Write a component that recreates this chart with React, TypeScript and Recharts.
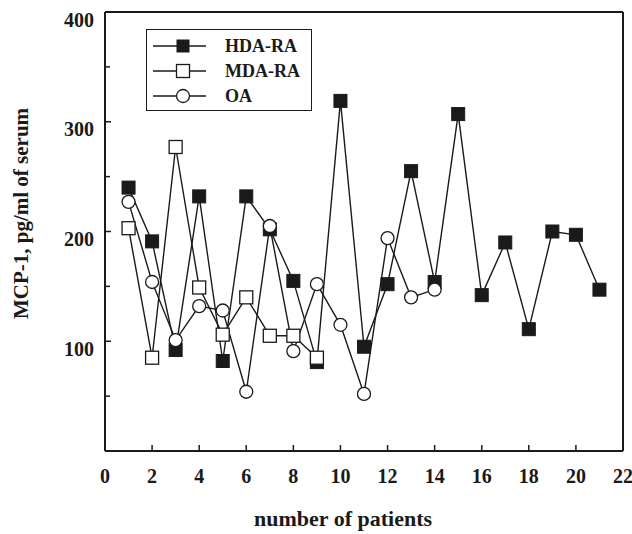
import { LineChart, Line, XAxis, YAxis, ReferenceLine, Label } from 'recharts';

const patients = [1, 2, 3, 4, 5, 6, 7, 8, 9, 10, 11, 12, 13, 14, 15, 16, 17, 18, 19, 20, 21];
const hdaRa = [240, 191, 92, 232, 82, 232, 202, 155, 81, 319, 95, 152, 255, 154, 307, 142, 190, 111, 200, 197, 147];
const mdaRa = [203, 85, 277, 149, 106, 140, 105, 105, 85];
const oa = [227, 154, 101, 132, 128, 54, 205, 91, 152, 115, 52, 194, 140, 147];

const xTicks = [0, 2, 4, 6, 8, 10, 12, 14, 16, 18, 20, 22];
const yTicks = [50, 100, 150, 200, 250, 300, 350, 400];
const yLabelled = [100, 200, 300, 400];

const data = patients.map((p, i) => ({
  patient: p,
  hda: hdaRa[i],
  mda: mdaRa[i],
  oa: oa[i],
}));

const FONT = '"Liberation Serif", "Times New Roman", serif';
const INK = '#1a1a1a';

const XTick = (props: any) => {
  const { x, y, payload } = props;
  return (
    <g>
      <line x1={x} y1={y} x2={x} y2={y - 6} stroke={INK} strokeWidth={1.5} />
      <text x={x} y={y + 32} textAnchor="middle" fontFamily={FONT} fontWeight="bold" fontSize={20} fill={INK}>
        {payload.value}
      </text>
    </g>
  );
};

const YTick = (props: any) => {
  const { x, y, payload } = props;
  const show = yLabelled.includes(payload.value);
  return (
    <g>
      <line x1={x} y1={y} x2={x + (show ? 6 : 5)} y2={y} stroke={INK} strokeWidth={1.5} />
      {show && (
        <text x={x - 11} y={y + 14.5} textAnchor="end" fontFamily={FONT} fontWeight="bold" fontSize={20} fill={INK}>
          {payload.value}
        </text>
      )}
    </g>
  );
};

const filledSquare = (props: any) => {
  const { cx, cy, index } = props;
  if (cx == null || cy == null) return <g key={`h${index}`} />;
  return <rect key={`h${index}`} x={cx - 6.5} y={cy - 6.5} width={13} height={13} fill={INK} stroke={INK} strokeWidth={1} />;
};

const openSquare = (props: any) => {
  const { cx, cy, index } = props;
  if (cx == null || cy == null) return <g key={`m${index}`} />;
  return <rect key={`m${index}`} x={cx - 6.5} y={cy - 6.5} width={13} height={13} fill="#fff" stroke={INK} strokeWidth={1.3} />;
};

const openCircle = (props: any) => {
  const { cx, cy, index } = props;
  if (cx == null || cy == null) return <g key={`o${index}`} />;
  return <circle key={`o${index}`} cx={cx} cy={cy} r={6.5} fill="#fff" stroke={INK} strokeWidth={1.3} />;
};

const YTitle = ({ viewBox }: any) => {
  const cx = viewBox.x + 21;
  const cy = viewBox.y + viewBox.height / 2 - 18;
  return (
    <text x={cx} y={cy} transform={`rotate(-90 ${cx} ${cy})`} textAnchor="middle" dominantBaseline="central"
      fontFamily={FONT} fontWeight="bold" fontSize={21} fill={INK}>
      MCP-1, pg/ml of serum
    </text>
  );
};

const XTitle = ({ viewBox }: any) => {
  const cx = viewBox.x + viewBox.width / 2 - 21;
  return (
    <text x={cx} y={viewBox.y + 75} textAnchor="middle" fontFamily={FONT} fontWeight="bold" fontSize={22} fill={INK}>
      number of patients
    </text>
  );
};

const legendItems = [
  { name: 'HDA-RA', kind: 'filled' },
  { name: 'MDA-RA', kind: 'open' },
  { name: 'OA', kind: 'circle' },
];

const ChartLegend = () => (
  <div style={{ position: 'absolute', left: 146, top: 29, width: 166, height: 82, border: `1.5px solid ${INK}`, boxSizing: 'border-box', background: '#fff' }}>
    <svg width={163} height={79}>
      {legendItems.map((it, i) => {
        const y = 16 + i * 25;
        return (
          <g key={it.name}>
            <line x1={6} x2={59} y1={y} y2={y} stroke={INK} strokeWidth={1.3} />
            {it.kind === 'filled' && <rect x={29.5} y={y - 6.5} width={13} height={13} fill={INK} />}
            {it.kind === 'open' && <rect x={29.5} y={y - 6.5} width={13} height={13} fill="#fff" stroke={INK} strokeWidth={1.3} />}
            {it.kind === 'circle' && <circle cx={36} cy={y} r={6.5} fill="#fff" stroke={INK} strokeWidth={1.3} />}
            <text x={78} y={y + 6} fontFamily={FONT} fontWeight="bold" fontSize={18} fill={INK}>{it.name}</text>
          </g>
        );
      })}
    </svg>
  </div>
);

export default function App() {
  return (
    <div style={{ position: 'absolute', left: 0, top: 0, width: 632, height: 534, background: '#fff' }}>
      <LineChart width={632} height={534} data={data} margin={{ top: 12, right: 9, bottom: 0, left: 0 }}>
        <XAxis
          dataKey="patient"
          type="number"
          domain={[0, 22]}
          ticks={xTicks}
          height={83}
          axisLine={{ stroke: INK, strokeWidth: 2 }}
          tickLine={false}
          tickSize={0}
          tickMargin={0}
          tick={<XTick />}
          interval={0}
        >
          <Label content={<XTitle />} />
        </XAxis>
        <YAxis
          type="number"
          domain={[0, 400]}
          ticks={yTicks}
          width={105}
          axisLine={{ stroke: INK, strokeWidth: 2 }}
          tickLine={false}
          tickSize={0}
          tickMargin={0}
          tick={<YTick />}
          interval={0}
        >
          <Label content={<YTitle />} />
        </YAxis>
        <ReferenceLine y={400} stroke={INK} strokeWidth={2} />
        <ReferenceLine x={22} stroke={INK} strokeWidth={2} />
        <Line dataKey="hda" stroke={INK} strokeWidth={1.4} dot={filledSquare} isAnimationActive={false} />
        <Line dataKey="mda" stroke={INK} strokeWidth={1.4} dot={openSquare} isAnimationActive={false} />
        <Line dataKey="oa" stroke={INK} strokeWidth={1.4} dot={openCircle} isAnimationActive={false} />
      </LineChart>
      <ChartLegend />
    </div>
  );
}
